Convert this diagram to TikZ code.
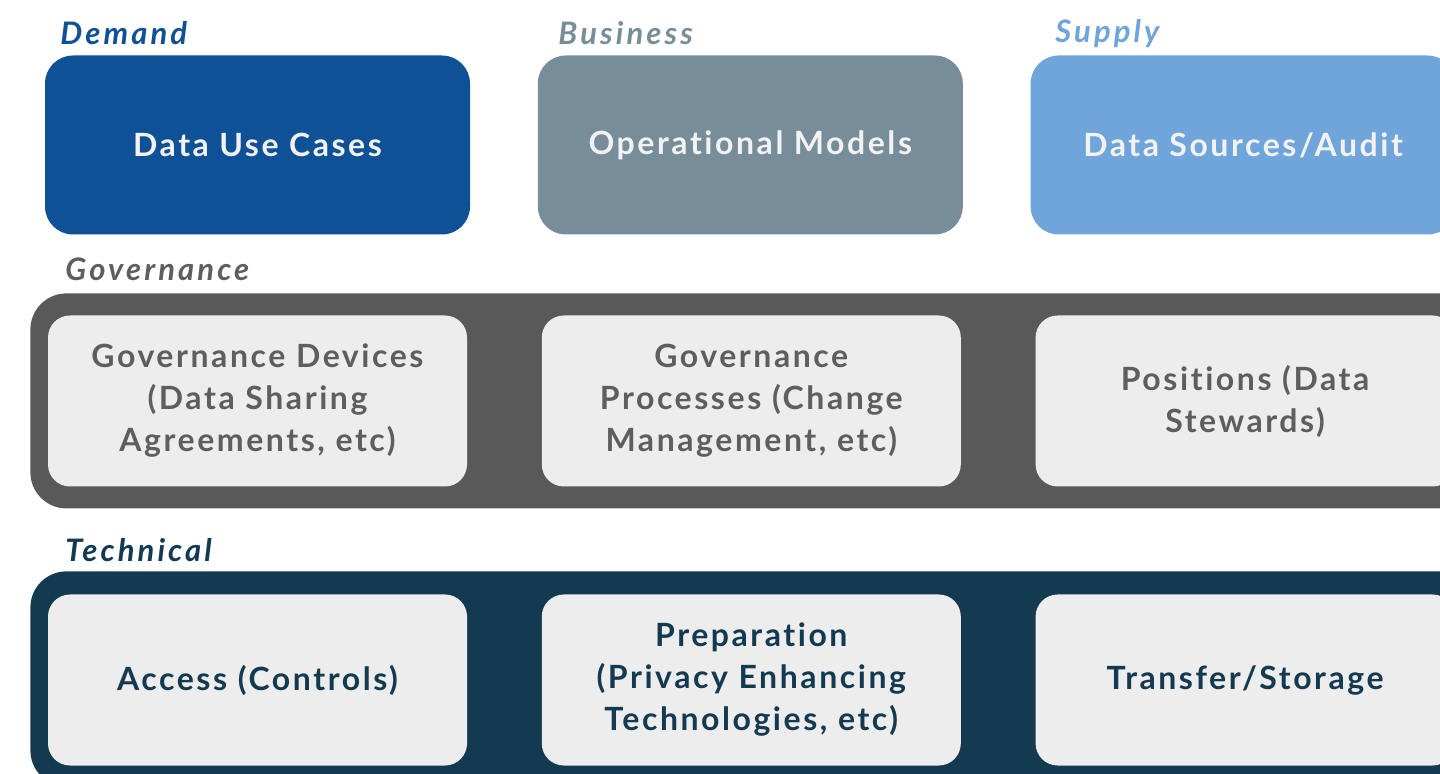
\documentclass[tikz,border=0pt]{standalone}
\usepackage{fontspec}
\setmainfont{Lato}[LetterSpace=8,Ligatures=NoCommon]
\usepackage{tikz}
\usetikzlibrary{positioning}
\definecolor{demandblue}{HTML}{0F5196}
\definecolor{businessgrey}{HTML}{778E9A}
\definecolor{supplyblue}{HTML}{6FA5DA}
\definecolor{govgrey}{HTML}{595959}
\definecolor{govtext}{HTML}{5E5E5E}
\definecolor{technavy}{HTML}{133A51}
\definecolor{innerfill}{HTML}{EDEDED}
\definecolor{toptext}{HTML}{F2F2F2}
\tikzset{
  top box/.style={rectangle,rounded corners=14pt,minimum width=212.5pt,minimum height=89.5pt,
    text=toptext,font=\fontsize{16}{21}\selectfont\bfseries},
  band/.style={rectangle,rounded corners=18pt,minimum width=725pt,minimum height=107.5pt},
  inner box/.style={rectangle,rounded corners=11pt,fill=innerfill,minimum width=209.5pt,
    minimum height=85.5pt,inner sep=3pt,text width=200pt,align=center,
    font=\fontsize{16}{21}\selectfont\bfseries},
  layer label/.style={anchor=base west,inner sep=0pt,
    font=\fontsize{15.5}{17}\selectfont\addfontfeatures{LetterSpace=10}\bfseries\itshape}
}
\begin{document}
\begin{tikzpicture}[x=0.5pt,y=-0.5pt]
  \useasboundingbox (0,0) rectangle (1440,774);
  \clip (0,0) rectangle (1440,774);
  % top row
  \node [layer label,text=demandblue] (demandlbl) at (60,45) {Demand};
  \node [layer label,text=businessgrey] (businesslbl) at (558,45) {Business};
  \node [layer label,text=supplyblue] (supplylbl) at (1055,43) {Supply};
  \node [top box,fill=demandblue] (usecases) at (257.5,145) {Data Use Cases};
  \node [top box,fill=businessgrey,right=33.5pt of usecases] (models) {Operational Models};
  \node [top box,fill=supplyblue,right=33.5pt of models] (sources) {Data Sources/Audit};
  % governance layer
  \node [layer label,text=govtext] (govlbl) at (65,281) {Governance};
  \node [band,fill=govgrey,anchor=north west] (govband) at (30,293) {};
  \node [inner box,text=govtext] (devices) at (257.5,401)
    {Governance Devices\\(Data Sharing\\Agreements, etc)};
  \node [inner box,text=govtext,right=37pt of devices] (processes)
    {Governance\\Processes (Change\\Management, etc)};
  \node [inner box,text=govtext,right=37pt of processes] (positions)
    {Positions (Data\\Stewards)};
  % technical layer
  \node [layer label,text=technavy] (techlbl) at (65,562) {Technical};
  \node [band,fill=technavy,anchor=north west] (techband) at (30,571) {};
  \node [inner box,text=technavy] (access) at (257.5,680) {Access (Controls)};
  \node [inner box,text=technavy,right=37pt of access] (preparation)
    {Preparation\\(Privacy Enhancing\\Technologies, etc)};
  \node [inner box,text=technavy,right=37pt of preparation] (transfer) {Transfer/Storage};
\end{tikzpicture}
\end{document}
